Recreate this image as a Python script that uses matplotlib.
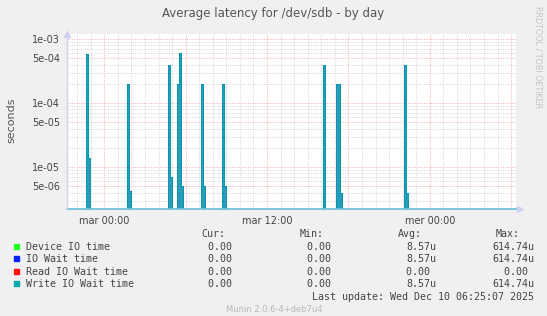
import numpy as np
import matplotlib
matplotlib.use("Agg")
import matplotlib.pyplot as plt
from matplotlib.ticker import FixedLocator, FuncFormatter, LogLocator, NullFormatter

# hours relative to "mar 00:00"
x_start, x_end = -2.75, 30.36
sample_h = 1 / 7  # one level of a spike lasts a few minutes on screen

spike_start = [-1.33, 1.68, 4.65, 5.43, 7.15, 8.70, 16.15, 17.09, 22.12]
spike_levels = [
    [5.9e-4, 1.4e-5],
    [2.0e-4, 4.2e-6],
    [4.0e-4, 7.0e-6],
    [2.0e-4, 6.1474e-4, 5.0e-6],
    [2.0e-4, 5.0e-6],
    [2.0e-4, 5.0e-6],
    [4.0e-4],
    [2.0e-4, 2.0e-4, 4.0e-6],
    [4.0e-4, 4.0e-6],
]

series = ["Device IO time", "IO Wait time", "Read IO Wait time", "Write IO Wait time"]
colors = ["#22ff22", "#0022ff", "#ff1111", "#00aaaa"]
cur = ["0.00", "0.00", "0.00", "0.00"]
mins = ["0.00", "0.00", "0.00", "0.00"]
avgs = ["8.57u", "8.57u", "0.00", "8.57u"]
maxs = ["614.74u", "614.74u", "0.00", "614.74u"]

x_ticks = [0, 12, 24]
x_labels = ["mar 00:00", "mar 12:00", "mer 00:00"]

# build the write latency trace from the spikes
t = np.arange(x_start, x_end + sample_h, sample_h)
write = np.zeros_like(t)
for s, levels in zip(spike_start, spike_levels):
    i0 = int(round((s - x_start) / sample_h))
    for k, lv in enumerate(levels):
        write[i0 + k] = lv
floor = 1e-9
read = np.zeros_like(t)
traces = [write, write, read, write]

fig = plt.figure(figsize=(5.47, 3.16), dpi=100, facecolor="#f0f0f0")
W, H = 547, 316
L, R, T, B = 67, 516, 33.5, 208.7
ax = fig.add_axes([L / W, 1 - B / H, (R - L) / W, (B - T) / H], facecolor="white")
ax.set_yscale("log")
ax.set_xlim(x_start, x_end)
ax.set_ylim(2.25e-6, 1.22e-3)

# grid
ax.xaxis.set_major_locator(FixedLocator(np.arange(-6, 31, 6)))
ax.xaxis.set_minor_locator(FixedLocator(np.arange(-2, 31, 1)))
lab = dict(zip(x_ticks, x_labels))
ax.xaxis.set_major_formatter(FuncFormatter(lambda v, p: lab.get(int(round(v)), "")))
ax.yaxis.set_major_locator(LogLocator(base=10, subs=(1.0, 5.0)))
ax.yaxis.set_minor_locator(LogLocator(base=10, subs=(2, 3, 4, 6, 7, 8, 9)))
ax.yaxis.set_major_formatter(FuncFormatter(lambda v, p: "{:.0e}".format(v)))
ax.yaxis.set_minor_formatter(NullFormatter())
ax.grid(True, which="minor", color="#cfcfcf", linestyle=(0, (1, 1.5)), linewidth=0.65)
ax.grid(True, which="major", color="#f3a4a4", linestyle=(0, (1, 1.5)), linewidth=0.65)
ax.set_axisbelow(True)
ax.tick_params(which="both", length=0, labelsize=7, labelcolor="#444444", pad=5)

# traces
ax.fill_between(t, np.where(write > 0, write, floor), floor, step="post",
                color="#1590b2", alpha=0.9, linewidth=0, zorder=2)
for tr, c in zip(traces, colors):
    if tr.max() <= 0:
        continue
    ax.step(t, np.where(tr > 0, tr, floor), where="post", color=c, linewidth=0.6, zorder=3)

for s in ax.spines.values():
    s.set_visible(False)
ax.axhline(2.25e-6, color="#70c0d8", linewidth=1.3, zorder=4, clip_on=False)
ax.axvline(x_start, color="#d0d0f4", linewidth=1.0, zorder=4, clip_on=False)
ax.plot([0], [1.0], marker="^", markersize=4, color="#d0d0f4", transform=ax.transAxes, clip_on=False)
ax.plot([1.008], [0.0], marker=">", markersize=4, color="#d0d0f4", transform=ax.transAxes, clip_on=False)

fig.text(273 / W, 1 - 13 / H, "Average latency for /dev/sdb - by day", ha="center", va="center",
         fontsize=8.5, color="#555555")
fig.text(11 / W, 1 - 120 / H, "seconds", rotation=90, ha="center", va="center", fontsize=8, color="#555555")
fig.text(538 / W, 1 - 6 / H, "RRDTOOL / TOBI OETIKER", rotation=270, ha="center", va="top",
         fontsize=5.8, color="#c4c4c4")

# legend
mono = dict(family="DejaVu Sans Mono", fontsize=7.2, color="#444444", va="center")
for x, h in zip([225, 324, 422, 520], ["Cur:", "Min:", "Avg:", "Max:"]):
    fig.text(x / W, 1 - 234.4 / H, h, ha="right", **mono)
rows_y = [246.6, 259.2, 271.8, 284.3]
for y, name, c, a, b, cc, d in zip(rows_y, series, colors, cur, mins, avgs, maxs):
    fig.patches.append(plt.Rectangle((14 / W, 1 - (y + 2) / H), 5 / W, 5 / H,
                                     transform=fig.transFigure, color=c))
    fig.text(26 / W, 1 - y / H, name, ha="left", **mono)
    for x, v in zip([238, 336.8, 436, 534], [a, b, cc, d]):
        txt = v if v.endswith("u") else v + " "
        fig.text(x / W, 1 - y / H, txt, ha="right", **mono)
fig.text(534 / W, 1 - 297 / H, "Last update: Wed Dec 10 06:25:07 2025", ha="right", **mono)
fig.text(274 / W, 1 - 309.8 / H, "Munin 2.0.6-4+deb7u4", ha="center", va="center",
         fontsize=6, color="#b8b8b8")

fig.savefig("out.png", dpi=100, facecolor=fig.get_facecolor())
